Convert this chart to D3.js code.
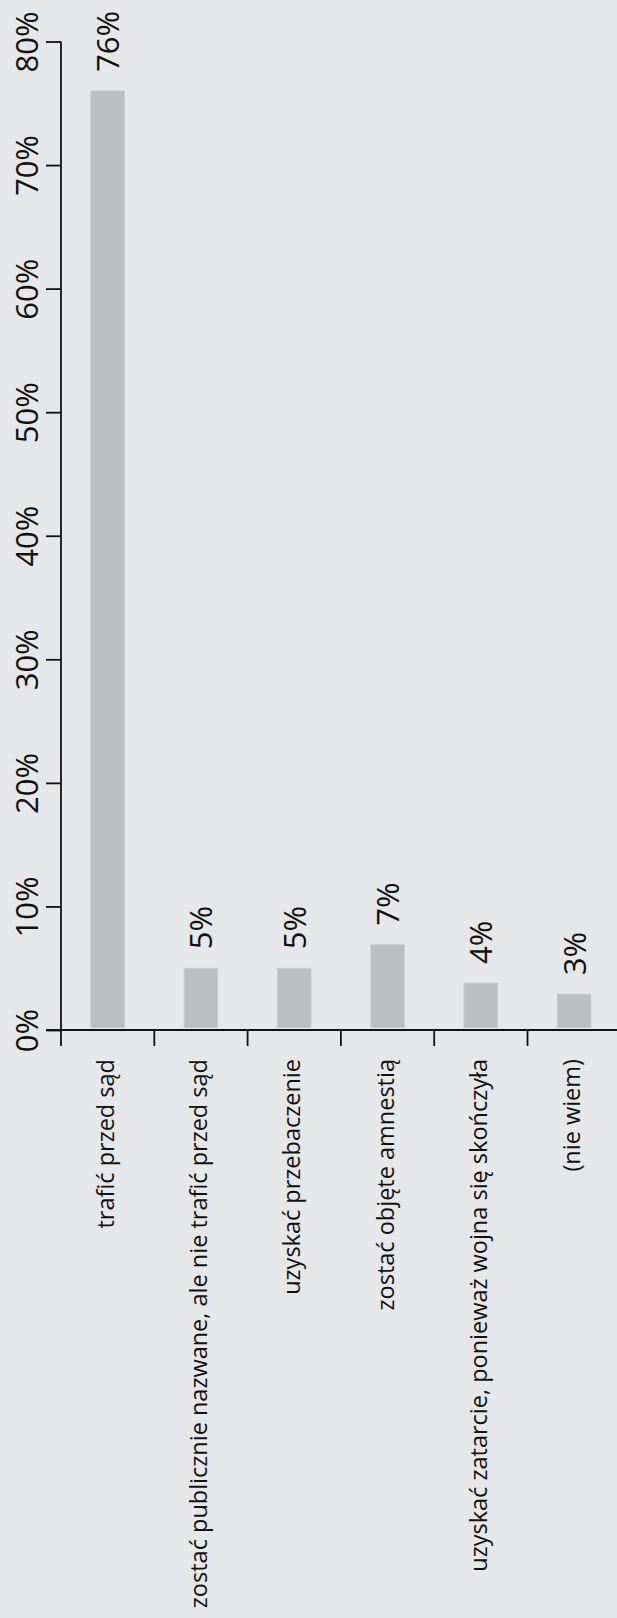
<!DOCTYPE html>
<html>
<head>
<meta charset="utf-8">
<script src="https://cdn.jsdelivr.net/npm/d3@7"></script>
<style>
  html, body { margin: 0; padding: 0; background: #e6e7e8; }
  svg { display: block; }
  text { font-family: "Open Sans", "Noto Sans", sans-serif; fill: #111; }
</style>
</head>
<body>
<script>
// ---- data ----
const categories = [
  "trafić przed sąd",
  "zostać publicznie nazwane, ale nie trafić przed sąd",
  "uzyskać przebaczenie",
  "zostać objęte amnestią",
  "uzyskać zatarcie, ponieważ wojna się skończyła",
  "(nie wiem)"
];
const values = [76, 5, 5, 6.9, 3.8, 2.9];
const valueLabels = ["76%", "5%", "5%", "7%", "4%", "3%"];
const yTicks = [0, 10, 20, 30, 40, 50, 60, 70, 80];

// ---- layout ----
const W = 617, H = 1618;
const svg = d3.select("body").append("svg").attr("width", W).attr("height", H);

const x = d3.scaleBand().domain(categories).range([61, 61 + 6 * 93.3]).padding(0);
const y = d3.scaleLinear().domain([0, 80]).range([1030, 41.5]);
const barW = x.bandwidth() * 0.36;

// bars
svg.append("g").selectAll("rect").data(values).join("rect")
  .attr("x", (d, i) => x(categories[i]) + x.bandwidth() / 2 - barW / 2)
  .attr("y", d => y(d))
  .attr("width", barW)
  .attr("height", d => y(0) - 2.5 - y(d))
  .attr("fill", "#bdbec0")
  .attr("stroke", "#cacbcd")
  .attr("stroke-width", 0.8);

// value labels
svg.append("g").selectAll("text").data(values).join("text")
  .attr("transform", (d, i) => `translate(${x(categories[i]) + x.bandwidth() / 2},${y(d) - 19}) rotate(-90)`)
  .attr("dy", "0.37em")
  .attr("text-anchor", "start")
  .style("font-size", "31px")
  .text((d, i) => valueLabels[i]);

// y axis
const yAxis = d3.axisLeft(y).tickValues(yTicks).tickFormat(d => d + "%").tickSize(15).tickPadding(0);
const gy = svg.append("g").attr("transform", "translate(61,0)").call(yAxis);
gy.select(".domain").attr("d", `M0,${y(80)}V${y(0)}`).attr("stroke", "#111").attr("stroke-width", 1.8);
gy.selectAll(".tick line").attr("stroke", "#111").attr("stroke-width", 1.8);
gy.selectAll(".tick text")
  .attr("x", null).attr("dy", null)
  .attr("transform", "translate(-23,0) rotate(-90)")
  .attr("text-anchor", "middle")
  .style("font-size", "31px")
  .style("font-family", "'Open Sans', sans-serif")
  .attr("fill", "#111");

// x axis
const xAxis = d3.axisBottom(x).tickSize(16).tickFormat("").tickSizeOuter(0);
const gx = svg.append("g").attr("transform", `translate(0,${y(0)})`).call(xAxis);
gx.select(".domain").attr("d", `M46,0H${W}`).attr("stroke", "#111").attr("stroke-width", 1.8);
gx.selectAll(".tick").attr("transform", d => `translate(${x(d)},0)`);
gx.selectAll(".tick line").attr("stroke", "#111").attr("stroke-width", 1.8);
gx.selectAll(".tick text").remove();

// category labels
svg.append("g").selectAll("text").data(categories).join("text")
  .attr("transform", d => `translate(${x(d) + x.bandwidth() / 2},${y(0) + 29}) rotate(-90)`)
  .attr("dy", "0.26em")
  .attr("text-anchor", "end")
  .style("font-size", "23.5px")
  .text(d => d);
</script>
</body>
</html>
